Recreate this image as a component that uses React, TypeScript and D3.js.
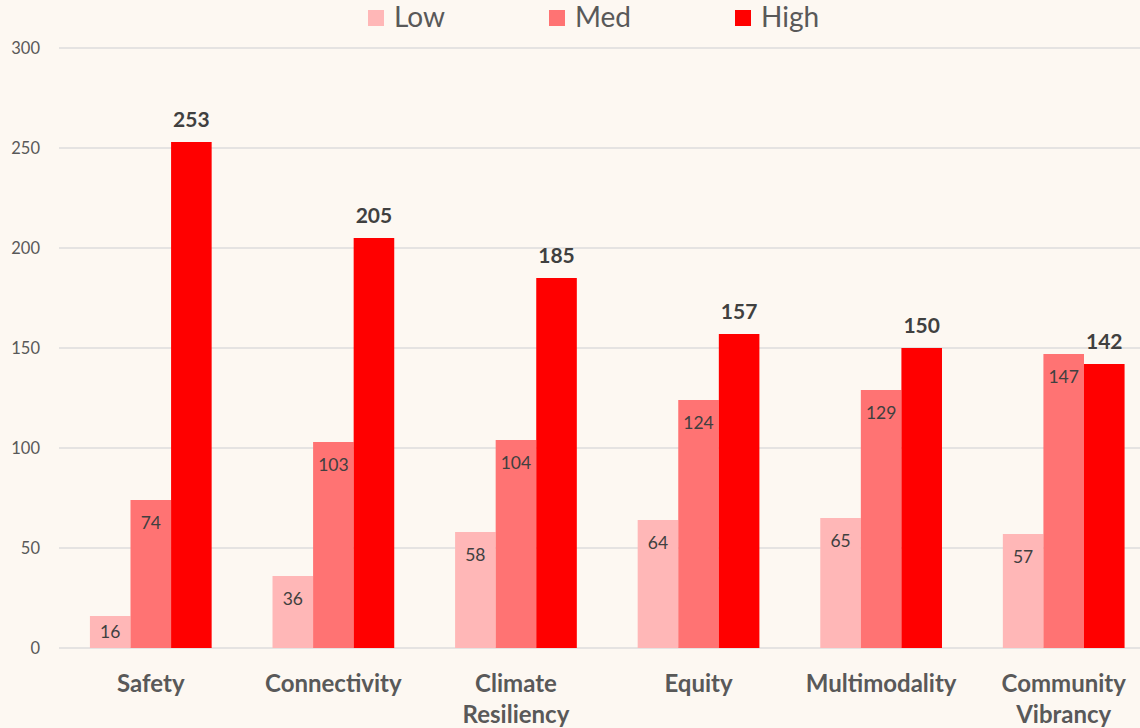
import React from "react";
import * as d3 from "d3";

const categories = [
  "Safety",
  "Connectivity",
  "Climate Resiliency",
  "Equity",
  "Multimodality",
  "Community Vibrancy",
];
const seriesNames = ["Low", "Med", "High"];
const lowValues = [16, 36, 58, 64, 65, 57];
const medValues = [74, 103, 104, 124, 129, 147];
const highValues = [253, 205, 185, 157, 150, 142];
const yTicks = [0, 50, 100, 150, 200, 250, 300];
const colors = ["#FFB7B7", "#FF7373", "#FF0000"];

const W = 1140;
const H = 728;
const font = "Lato, 'Open Sans', sans-serif";

const App: React.FC = () => {
  const svgRef = React.useRef<SVGSVGElement>(null);

  React.useEffect(() => {
    const svg = d3.select(svgRef.current);
    svg.selectAll("*").remove();

    svg.append("rect").attr("width", W).attr("height", H).attr("fill", "#FDF8F2");

    const x = d3.scaleBand<string>().domain(categories).range([59.5, 1155]).padding(0);
    const xInner = d3
      .scaleBand<string>()
      .domain(seriesNames)
      .range([0, x.bandwidth()])
      .paddingInner(0)
      .paddingOuter(0.75);
    const y = d3.scaleLinear().domain([0, 300]).range([648, 48]);

    // grid
    svg
      .append("g")
      .selectAll("line")
      .data(yTicks)
      .join("line")
      .attr("x1", 59)
      .attr("x2", W)
      .attr("y1", (d) => y(d))
      .attr("y2", (d) => y(d))
      .attr("stroke", "#DCDCDC")
      .attr("stroke-width", 1.3);

    // y labels
    svg
      .append("g")
      .selectAll("text")
      .data(yTicks)
      .join("text")
      .attr("x", 40)
      .attr("y", (d) => y(d) + 5.5)
      .attr("text-anchor", "end")
      .attr("font-family", font)
      .attr("font-size", 16.5)
      .attr("fill", "#595959")
      .text((d) => d);

    const series = [lowValues, medValues, highValues];
    series.forEach((vals, si) => {
      const name = seriesNames[si];
      const g = svg.append("g");
      g.selectAll("rect")
        .data(vals)
        .join("rect")
        .attr("x", (_, i) => x(categories[i])! + xInner(name)!)
        .attr("y", (d) => y(d))
        .attr("width", xInner.bandwidth())
        .attr("height", (d) => y(0) - y(d))
        .attr("fill", colors[si]);

      g.selectAll("text")
        .data(vals)
        .join("text")
        .attr("x", (_, i) => x(categories[i])! + xInner(name)! + xInner.bandwidth() / 2)
        .attr("y", (d) => {
          if (si === 2) return y(d) - 15;
          const h = y(0) - y(d);
          return h < 50 ? y(d) + h / 2 + 6 : y(d) + 29;
        })
        .attr("text-anchor", "middle")
        .attr("font-family", font)
        .attr("font-size", si === 2 ? 21 : 17.5)
        .attr("font-weight", si === 2 ? 700 : 400)
        .attr("fill", "#404040")
        .text((d) => d);
    });

    // category labels
    const cat = svg.append("g");
    categories.forEach((c) => {
      const words = c.split(" ");
      const t = cat
        .append("text")
        .attr("x", x(c)! + x.bandwidth() / 2)
        .attr("y", 692)
        .attr("text-anchor", "middle")
        .attr("font-family", font)
        .attr("font-size", 24)
        .attr("font-weight", 700)
        .attr("fill", "#595959");
      words.forEach((w, wi) => {
        t.append("tspan")
          .attr("x", x(c)! + x.bandwidth() / 2)
          .attr("dy", wi === 0 ? 0 : 31)
          .text(w);
      });
    });

    // legend
    const legendX = [368, 549, 735];
    const lg = svg.append("g");
    seriesNames.forEach((n, i) => {
      lg.append("rect")
        .attr("x", legendX[i])
        .attr("y", 10)
        .attr("width", 16)
        .attr("height", 16)
        .attr("fill", colors[i]);
      lg.append("text")
        .attr("x", legendX[i] + 26)
        .attr("y", 27)
        .attr("font-family", font)
        .attr("font-size", 28)
        .attr("fill", "#595959")
        .text(n);
    });
  }, []);

  return (
    <svg
      ref={svgRef}
      width={W}
      height={H}
      style={{ display: "block", position: "fixed", left: 0, top: 0 }}
    />
  );
};

export default App;
